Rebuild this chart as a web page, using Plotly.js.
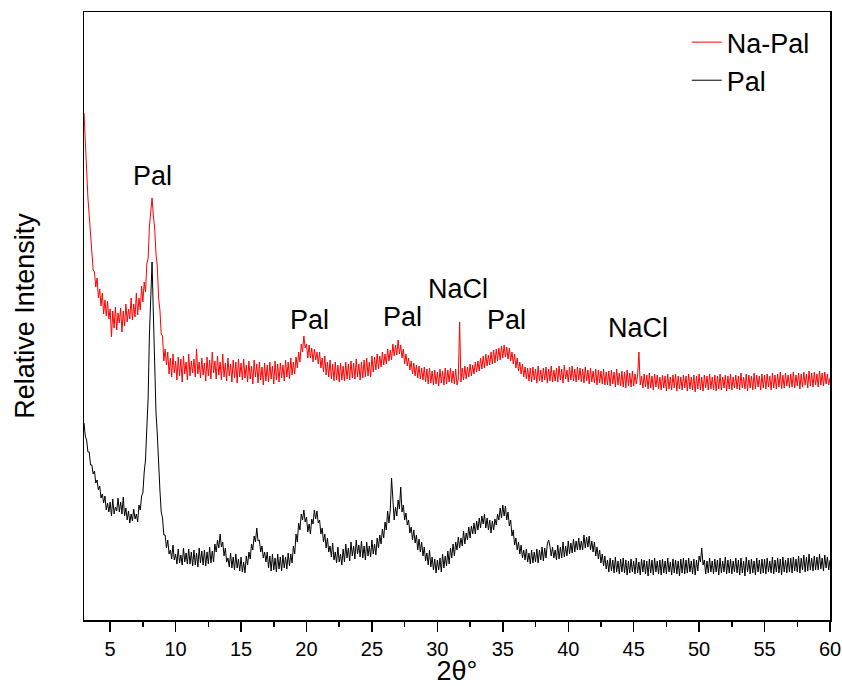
<!DOCTYPE html>
<html>
<head>
<meta charset="utf-8">
<script src="https://cdn.plot.ly/plotly-3.0.1.min.js"></script>
<style>html,body{margin:0;padding:0;background:#fff;}#chart{width:842px;height:686px;}</style>
</head>
<body>
<div id="chart"></div>
<script>
// 2θ grid: 3.0 to 60.0 in 0.1° steps (571 points)
const thetaStart = 3.0;
const thetaStep = 0.1;
const thetaCount = 571;
const twoTheta = Array.from({length: thetaCount}, (_, i) => +(thetaStart + thetaStep * i).toFixed(1));

// Na-Pal (red) relative intensity (one row = 2°)
const naPal = [
  507,474,452,422,404,383,372,350,348,333,342,322,331,314,327,306,320,304,319,301,
  311,283,309,292,313,290,307,297,312,288,309,294,316,298,311,301,322,300,316,303,
  327,305,322,310,334,318,338,328,356,362,394,408,422,404,392,366,354,322,310,286,
  284,259,271,255,268,246,262,243,266,247,259,240,263,244,261,238,264,246,258,240,
  266,244,259,247,261,243,271,246,258,242,262,245,257,239,263,244,260,241,268,247,
  259,241,264,245,258,240,266,243,257,239,262,244,256,238,260,242,258,237,261,243,
  257,240,261,242,255,238,259,241,254,236,260,243,256,237,258,240,253,235,257,239,
  255,238,258,241,254,236,259,240,256,238,257,242,255,239,260,243,258,241,262,245,
  258,246,263,252,268,258,276,268,284,272,276,262,275,262,272,258,271,260,268,256,
  268,252,262,248,264,245,258,243,260,241,256,239,258,240,255,238,257,240,254,239,
  258,241,256,240,259,242,257,241,261,243,256,240,258,242,260,243,262,244,258,243,
  264,248,263,250,266,251,264,253,268,255,266,256,271,259,270,260,276,264,275,265,
  280,266,275,262,271,256,266,254,262,250,259,246,257,244,255,242,254,241,252,240,
  253,238,251,236,252,237,249,235,250,236,248,234,251,237,249,235,252,236,250,238,
  252,237,249,236,251,235,241,298,238,252,240,254,241,253,243,256,244,255,246,258,
  248,259,249,262,251,264,252,266,254,265,255,268,256,270,257,271,259,272,260,274,
  262,275,263,273,261,272,259,268,256,266,252,262,249,258,246,256,243,253,241,252,
  239,252,238,253,240,251,237,254,239,250,238,252,240,253,237,251,239,254,238,250,
  239,252,238,254,240,251,237,255,241,250,238,253,240,254,239,251,238,253,240,252,
  238,251,237,253,239,250,236,252,238,249,237,251,235,250,237,249,236,251,235,248,
  235,249,234,250,236,248,233,251,235,247,234,249,233,248,232,250,234,247,233,249,
  234,246,236,245,268,235,244,232,246,233,245,231,247,232,244,230,246,233,245,231,
  243,230,245,232,244,229,246,231,243,230,245,232,246,229,244,231,243,230,245,232,
  244,229,246,231,243,230,245,228,244,231,246,230,243,229,245,232,244,230,246,231,
  243,230,245,229,244,231,246,230,243,232,245,229,244,231,246,230,243,232,245,231,
  244,230,247,232,243,231,246,229,245,232,244,230,247,231,245,233,244,230,246,232,
  245,231,246,233,244,230,247,232,245,231,246,233,248,231,245,232,247,234,245,232,
  246,233,248,232,245,234,247,231,246,233,248,235,246,232,249,234,247,233,248,235,
  246,233,249,235,247,234,248,236,246,235,242
];

// Pal (black) relative intensity (one row = 2°)
const pal = [
  197,184,180,168,168,155,155,146,149,137,140,130,134,122,126,117,124,110,117,108,
  118,104,121,106,113,109,122,108,118,106,123,104,112,100,109,97,106,99,111,101,
  106,98,115,110,124,127,148,160,192,222,286,332,358,306,252,208,186,152,130,108,
  102,85,85,72,80,66,70,61,75,60,66,56,71,57,65,55,72,58,67,56,
  71,56,68,54,70,55,67,53,72,57,69,55,70,54,68,56,73,57,69,58,
  76,68,80,72,86,73,78,64,72,58,62,53,67,52,63,50,66,52,61,49,
  63,48,58,47,64,55,68,61,76,70,84,78,92,79,80,68,74,62,68,58,
  68,52,64,49,66,50,62,48,66,51,63,49,65,52,63,51,67,54,66,57,
  74,66,86,78,97,90,106,100,110,98,103,88,96,86,101,96,110,101,109,97,
  100,86,92,78,86,72,82,68,74,63,77,60,68,57,73,58,66,55,71,58,
  76,62,72,59,78,64,74,61,80,66,75,63,79,62,74,60,78,64,74,63,
  80,66,76,65,82,72,85,76,91,82,98,90,109,97,110,142,114,100,113,104,
  120,111,133,108,115,100,107,95,100,87,93,80,90,77,85,70,81,68,78,64,
  73,59,67,55,70,53,63,50,61,47,60,50,62,48,66,52,64,54,69,56,
  72,62,76,64,78,70,83,72,82,74,89,76,87,80,93,82,94,86,97,86,
  99,90,102,92,104,96,106,92,102,90,100,87,99,90,101,95,106,100,112,102,
  115,104,114,100,108,94,100,84,90,75,82,70,78,66,75,62,70,60,71,58,
  67,56,70,57,68,58,71,57,70,60,73,59,72,62,76,80,74,64,73,62,
  70,60,75,61,73,62,78,63,74,64,79,66,77,67,81,68,79,70,82,70,
  79,70,85,72,83,73,84,70,79,68,78,64,73,61,70,57,66,54,64,51,
  60,48,62,49,60,47,63,48,59,46,61,48,62,47,60,45,59,47,61,48,
  59,46,62,47,58,45,61,48,60,46,59,44,61,47,60,45,62,48,59,46,
  60,45,61,47,59,46,62,48,58,45,61,47,60,46,59,44,61,47,62,46,
  60,47,62,48,59,46,61,45,60,49,64,58,72,55,60,46,59,47,62,48,
  59,46,61,48,60,45,62,47,59,48,63,46,60,47,61,46,59,48,62,47,
  60,45,62,47,59,44,63,48,60,46,61,47,59,45,62,48,60,46,61,47,
  61,46,62,48,59,47,63,46,60,48,62,47,61,45,63,48,60,47,62,48,
  62,47,63,49,61,48,64,47,62,50,65,48,63,49,66,50,62,49,64,50,
  63,50,66,51,62,49,65,52,63,50,60
];

// Peak labels
const peakLabels = ["Pal", "Pal", "Pal", "NaCl", "Pal", "NaCl"];
const peakX = [8.2, 20.2, 27.3, 31.6, 35.3, 45.3];
const peakY = [444, 300, 303, 331, 300, 292];

const seriesNames = ["Na-Pal", "Pal"];
const seriesColors = ["#ff0000", "#000000"];

const font = "Arial, 'Liberation Sans', sans-serif";

const traces = [
  {x: twoTheta, y: naPal, type: "scatter", mode: "lines", name: seriesNames[0],
   line: {color: seriesColors[0], width: 1}},
  {x: twoTheta, y: pal, type: "scatter", mode: "lines", name: seriesNames[1],
   line: {color: seriesColors[1], width: 1}}
];

const annotations = peakLabels.map((t, i) => ({
  x: peakX[i], y: peakY[i], xref: "x", yref: "y", text: t, showarrow: false,
  font: {family: font, size: 27, color: "#000"}, xanchor: "center", yanchor: "middle"
}));

const layout = {
  width: 842, height: 686,
  margin: {l: 84, r: 12, t: 12, b: 66},
  paper_bgcolor: "#fff", plot_bgcolor: "#fff",
  font: {family: font, color: "#000"},
  showlegend: true,
  legend: {x: 0.808, y: 0.99, xanchor: "left", yanchor: "top",
           font: {family: font, size: 27, color: "#000"}, bgcolor: "rgba(0,0,0,0)"},
  xaxis: {
    range: [3, 60], dtick: 5, tick0: 0, ticks: "outside", ticklen: 10, tickwidth: 1.5,
    tickcolor: "#000", showline: true, linecolor: "#000", linewidth: 1.5, mirror: true,
    showgrid: false, zeroline: false,
    minor: {dtick: 2.5, ticks: "outside", ticklen: 5, tickwidth: 1.5, tickcolor: "#000", showgrid: false},
    tickfont: {family: font, size: 20, color: "#000"},
    title: {text: "2θ°", font: {family: font, size: 27, color: "#000"}, standoff: 0}
  },
  yaxis: {
    range: [0, 608], showticklabels: false, ticks: "", showline: true, linecolor: "#000",
    linewidth: 1.5, mirror: true, showgrid: false, zeroline: false,
    title: {text: "Relative Intensity", font: {family: font, size: 27, color: "#000"}, standoff: 40}
  },
  annotations: annotations
};

Plotly.newPlot("chart", traces, layout, {displayModeBar: false, staticPlot: true});
</script>
</body>
</html>
